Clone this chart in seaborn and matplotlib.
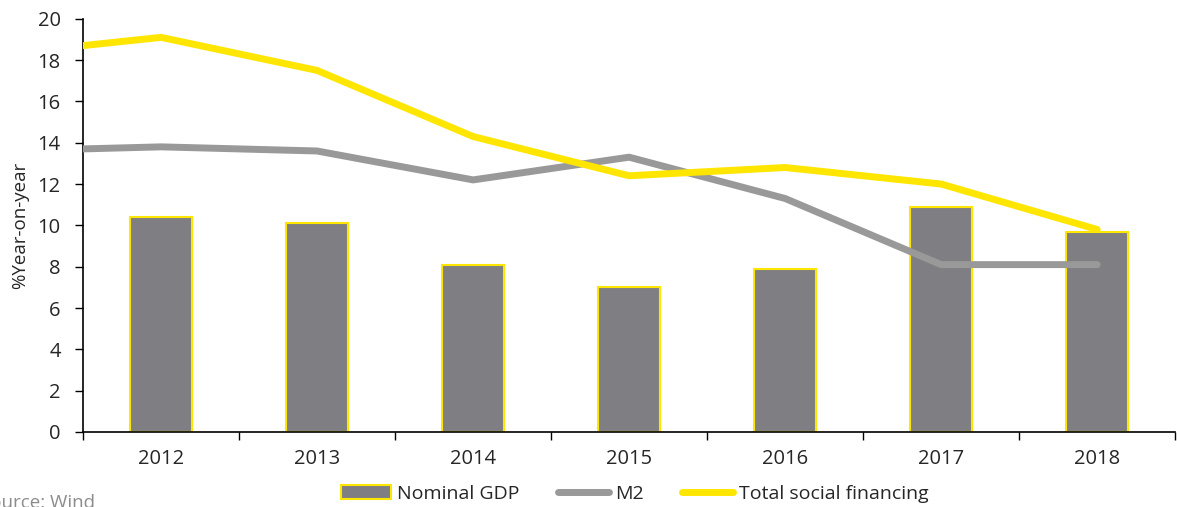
import numpy as np
import pandas as pd
import seaborn as sns
import matplotlib.pyplot as plt

years = ["2012", "2013", "2014", "2015", "2016", "2017", "2018"]
nominal_gdp = [10.4, 10.1, 8.1, 7.0, 7.9, 10.9, 9.7]

# line series include 2011 (runs off the left edge of the axis)
line_years = [2011, 2012, 2013, 2014, 2015, 2016, 2017, 2018]
m2 = [13.6, 13.8, 13.6, 12.2, 13.3, 11.3, 8.1, 8.1]
tsf = [18.3, 19.1, 17.5, 14.3, 12.4, 12.8, 12.0, 9.8]

YELLOW = "#FFE600"
BAR_GREY = "#7F7E82"
LINE_GREY = "#999999"
FS = 14.5

sns.set_style("white")
plt.rcParams["font.family"] = ["Open Sans", "DejaVu Sans"]

fig = plt.figure(figsize=(11.77, 5.07), dpi=100)
ax = fig.add_axes([0.0705, 0.148, 0.928, 0.815])

bars = pd.DataFrame({"year": years, "value": nominal_gdp})
sns.barplot(data=bars, x="year", y="value", order=years, color=BAR_GREY,
            width=0.4, edgecolor=YELLOW, linewidth=1.5, saturation=1,
            ax=ax, label="Nominal GDP", zorder=2)

lines = pd.DataFrame({"pos": [y - 2012 for y in line_years], "M2": m2,
                      "Total social financing": tsf})
sns.lineplot(data=lines, x="pos", y="M2", color=LINE_GREY, linewidth=5,
             ax=ax, label="M2", zorder=3, solid_capstyle="round")
sns.lineplot(data=lines, x="pos", y="Total social financing", color=YELLOW,
             linewidth=5, ax=ax, label="Total social financing", zorder=4,
             solid_capstyle="round")

ax.set_xlim(-0.5, 6.5)
ax.set_ylim(0, 20)
ax.set_yticks(np.arange(0, 21, 2))
ax.set_xticks(np.arange(-0.5, 7, 1))
ax.set_xticklabels([])
ax.set_xticks(np.arange(0, 7), minor=True)
ax.set_xticklabels(years, minor=True)
ax.tick_params(axis="x", which="major", direction="out", length=6, width=1,
               color="black", bottom=True)
ax.tick_params(axis="x", which="minor", length=0, pad=12, labelsize=FS)
ax.tick_params(axis="y", direction="out", length=6, width=1, color="black",
               left=True, labelsize=FS, pad=10)

sns.despine(ax=ax)
for s in ["left", "bottom"]:
    ax.spines[s].set_color("black")
    ax.spines[s].set_linewidth(1.2)

ax.set_xlabel("")
ax.set_ylabel("%Year-on-year", fontsize=FS - 1, labelpad=6)

handles, labels = ax.get_legend_handles_labels()
order = [labels.index(n) for n in ["Nominal GDP", "M2", "Total social financing"]]
leg = ax.legend([handles[i] for i in order], [labels[i] for i in order],
                loc="upper center", bbox_to_anchor=(0.505, -0.085), ncol=3,
                frameon=False, fontsize=FS - 0.5, handlelength=2.6,
                handletextpad=0.3, columnspacing=2.0)

fig.text(-0.017, -0.01, "Source: Wind", color="#8C8C8C", fontsize=FS - 1,
         ha="left", va="bottom")

fig.savefig("out.png", dpi=100)
